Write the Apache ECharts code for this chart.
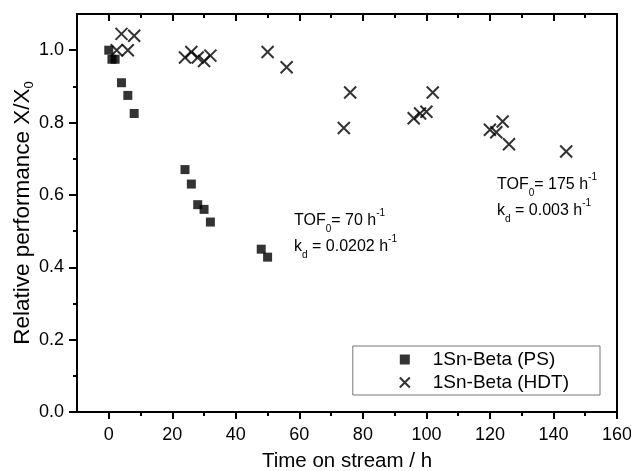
<!DOCTYPE html>
<html>
<head>
<meta charset="utf-8">
<script src="https://cdn.jsdelivr.net/npm/echarts@6/dist/echarts.min.js"></script>
<style>html,body{margin:0;padding:0;background:#fff;}#c{width:631px;height:471px;}</style>
</head>
<body>
<div id="c"></div>
<script>
// Data
var psX = [0, 1, 2, 4, 6, 8, 24, 26, 28, 30, 32, 48, 50];
var psY = [1.0, 0.975, 0.975, 0.91, 0.875, 0.825, 0.67, 0.63, 0.573, 0.56, 0.525, 0.45, 0.428];
var hdtX = [2.5, 4, 6, 8, 24, 26, 28, 30, 32, 50, 56, 74, 76, 96, 98, 100, 102, 120, 122, 124, 126, 144];
var hdtY = [1.0, 1.045, 1.0, 1.04, 0.98, 0.995, 0.98, 0.97, 0.985, 0.995, 0.953, 0.785, 0.883, 0.812, 0.825, 0.83, 0.883, 0.78, 0.773, 0.803, 0.74, 0.72];
var xMajor = [0, 20, 40, 60, 80, 100, 120, 140, 160];
var xMinor = [10, 30, 50, 70, 90, 110, 130, 150];
var yMajor = [0, 0.2, 0.4, 0.6, 0.8, 1.0];
var yMinor = [0.1, 0.3, 0.5, 0.7, 0.9];
var seriesNames = ['1Sn-Beta (PS)', '1Sn-Beta (HDT)'];

var FONT = "'Liberation Sans', Arial, sans-serif";
function zip(a, b) { return a.map(function (v, i) { return [v, b[i]]; }); }
var lineStyle = { color: '#000', width: 2 };
var crossPath = 'path://M0,0L10,10M10,0L0,10';

var chart = echarts.init(document.getElementById('c'), null, { renderer: 'canvas' });
var rich = {
  a: { fontSize: 16, fontFamily: FONT, color: '#000', lineHeight: 26 },
  s: { fontSize: 10, fontFamily: FONT, color: '#000', lineHeight: 10, verticalAlign: 'bottom' },
  p: { fontSize: 10, fontFamily: FONT, color: '#000', lineHeight: 10, verticalAlign: 'top' }
};
function ann(left, top, text) {
  return { type: 'text', left: left, top: top, z: 10, style: { text: text, rich: rich, font: '16px ' + FONT } };
}
function tickAxis(pos, values, len, inside, showLine) {
  var isX = pos === 'top' || pos === 'bottom';
  return { type: 'value', position: pos, min: isX ? -10 : 0, max: isX ? 160 : 1.1,
    axisLine: { show: showLine, onZero: false, lineStyle: lineStyle },
    axisTick: { show: true, inside: inside, customValues: values, length: len, lineStyle: lineStyle },
    axisLabel: { show: true, customValues: values, formatter: function () { return ''; } },
    splitLine: { show: false } };
}
chart.setOption({
  animation: false,
  backgroundColor: '#fff',
  grid: { left: 77, right: 14, top: 14, bottom: 59, outerBoundsMode: 'none', containLabel: false },
  xAxis: [
    { type: 'value', position: 'bottom', min: -10, max: 160,
      name: 'Time on stream / h', nameLocation: 'middle', nameGap: 39,
      nameTextStyle: { fontSize: 20.5, fontFamily: FONT, color: '#000' },
      axisLine: { show: true, onZero: false, lineStyle: lineStyle },
      axisTick: { show: true, customValues: xMajor, length: 7, lineStyle: lineStyle },
      axisLabel: { customValues: xMajor, margin: 14, fontSize: 18, fontFamily: FONT, color: '#000' },
      splitLine: { show: false } },
    tickAxis('bottom', xMinor, 4, false, false),
    tickAxis('top', xMajor, 7, true, true),
    tickAxis('top', xMinor, 4, true, false)
  ],
  yAxis: [
    { type: 'value', position: 'left', min: 0, max: 1.1,
      name: '{a|Relative performance X/X}{s|0}', nameLocation: 'middle', nameGap: 41,
      nameMoveOverlap: false,
      nameTextStyle: { fontSize: 22.5, fontFamily: FONT, color: '#000',
        rich: { a: { fontSize: 22.5, fontFamily: FONT, color: '#000', lineHeight: 26 },
                s: { fontSize: 13, fontFamily: FONT, color: '#000', lineHeight: 13, verticalAlign: 'bottom' } } },
      axisLine: { show: true, onZero: false, lineStyle: lineStyle },
      axisTick: { show: true, customValues: yMajor, length: 8, lineStyle: lineStyle },
      axisLabel: { customValues: yMajor, margin: 13, fontSize: 18, fontFamily: FONT, color: '#000',
        formatter: function (v) { return v.toFixed(1); } },
      splitLine: { show: false } },
    tickAxis('left', yMinor, 4, false, false),
    tickAxis('right', [], 0, false, true)
  ],
  legend: {
    orient: 'vertical', right: 31, bottom: 76,
    data: seriesNames,
    borderColor: '#777', borderWidth: 1, padding: [4, 31, 3, 46],
    itemWidth: 10, itemHeight: 10, itemGap: 4,
    formatter: function (n) { return '{g|}{n|' + n + '}'; },
    textStyle: { fontSize: 19, fontFamily: FONT, color: '#000',
      rich: { g: { width: 18 }, n: { fontSize: 19, fontFamily: FONT, color: '#000', lineHeight: 20 } } }
  },
  series: [
    { name: seriesNames[0], type: 'scatter', xAxisIndex: 0, yAxisIndex: 0,
      symbol: 'rect', symbolSize: 9, data: zip(psX, psY),
      itemStyle: { color: '#000' } },
    { name: seriesNames[1], type: 'scatter', xAxisIndex: 0, yAxisIndex: 0,
      symbol: crossPath, symbolSize: 12, data: zip(hdtX, hdtY),
      itemStyle: { color: 'rgba(0,0,0,0)', borderColor: '#000', borderWidth: 2 } }
  ],
  graphic: [
    ann(294, 208, '{a|TOF}{s|0}{a|= 70 h}{p|-1}'),
    ann(294, 234, '{a|k}{s|d}{a| = 0.0202 h}{p|-1}'),
    ann(497, 172, '{a|TOF}{s|0}{a|= 175 h}{p|-1}'),
    ann(497, 198, '{a|k}{s|d}{a| = 0.003 h}{p|-1}')
  ]
});
</script>
</body>
</html>
